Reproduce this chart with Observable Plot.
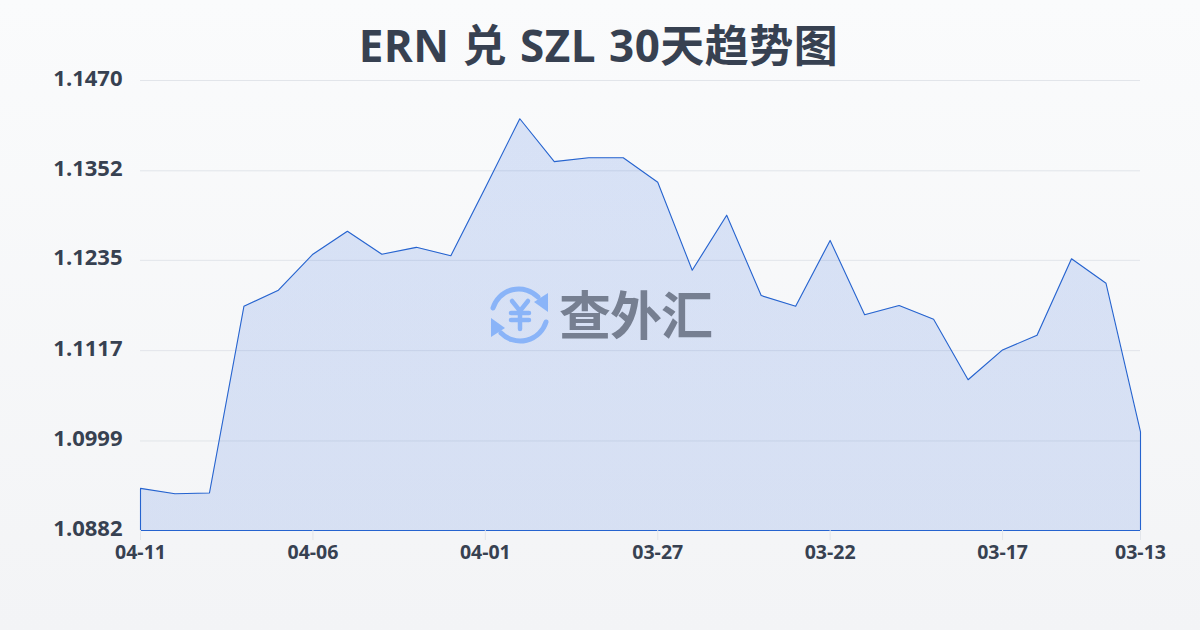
<!DOCTYPE html>
<html lang="zh">
<head>
<meta charset="utf-8">
<script src="https://cdn.jsdelivr.net/npm/d3@7"></script>
<script src="https://cdn.jsdelivr.net/npm/@observablehq/plot@0.6"></script>
<style>
html,body{margin:0;padding:0;width:1200px;height:630px;overflow:hidden;background:linear-gradient(180deg,#fafbfc 0%,#f3f4f6 100%);}
#wrap{position:relative;width:1200px;height:630px;font-family:"Open Sans","Noto Sans CJK SC",sans-serif;}
#title{padding-top:16px;height:44px;line-height:58px;text-align:center;font-size:44px;font-weight:700;letter-spacing:0.5px;word-spacing:1px;color:#374151;white-space:nowrap;margin-left:-3px;}
#chart svg{display:block;background:transparent;}
#mark{position:absolute;left:488px;top:284px;width:230px;height:62px;pointer-events:none;}
#mark span{position:absolute;left:71px;top:-9px;font:700 52px/76px "Noto Sans CJK SC",sans-serif;letter-spacing:-1px;color:#767f91;white-space:nowrap;}
</style>
</head>
<body>
<div id="wrap">
  <div id="title">ERN 兑 SZL 30天趋势图</div>
  <div id="chart"></div>
  <div id="mark">
    <svg width="64" height="62" viewBox="0 0 64 62" style="position:absolute;left:0;top:0">
      <g fill="none" stroke="#8ab4f8" stroke-width="5" stroke-linecap="round">
        <path d="M5 24 A27 27 0 0 1 50 13"/>
        <path d="M58 38 A27 27 0 0 1 13 49"/>
        <path d="M24 17 L32 27 L40 17 M32 27 V45 M23 29 H41 M23 36 H41" stroke-width="4.5"/>
      </g>
      <path d="M46 18 L60 9 L60 28 Z" fill="#8ab4f8"/>
      <path d="M3 34 L17 44 L3 53 Z" fill="#8ab4f8"/>
    </svg>
    <span>查外汇</span>
  </div>
</div>
<script>
const dates = ["04-11","04-10","04-09","04-08","04-07","04-06","04-05","04-04","04-03","04-02","04-01","03-31","03-30","03-29","03-28","03-27","03-26","03-25","03-24","03-23","03-22","03-21","03-20","03-19","03-18","03-17","03-16","03-15","03-14","03-13"];
const rates = [1.0937,1.0930,1.0931,1.1175,1.1196,1.1243,1.1273,1.1243,1.1252,1.1241,1.1330,1.1420,1.1364,1.1369,1.1369,1.1337,1.1222,1.1294,1.1189,1.1175,1.1261,1.1164,1.1176,1.1158,1.1079,1.1118,1.1137,1.1237,1.1205,1.1011];
const yTicks = [1.0882,1.0999,1.1117,1.1235,1.1352,1.1470];
const xTicks = ["04-11","04-06","04-01","03-27","03-22","03-17","03-13"];
const yBase = 1.0882, yTop = 1.1470;
const rows = dates.map((d,i)=>({date:d,rate:rates[i]}));
const outline = [{date:dates[0],rate:yBase},...rows,{date:dates[dates.length-1],rate:yBase},{date:dates[0],rate:yBase}];

const chart = Plot.plot({
  width:1200, height:510,
  marginTop:20, marginBottom:40, marginLeft:140, marginRight:60,
  style:{background:"transparent",fontFamily:'"Open Sans","Noto Sans CJK SC",sans-serif'},
  x:{type:"point",domain:dates,padding:0,round:false,label:null},
  y:{domain:[yBase,yTop],label:null},
  marks:[
    Plot.gridY(yTicks,{stroke:"#e2e5ea",strokeOpacity:1,strokeWidth:1}),
    Plot.areaY(rows,{x:"date",y1:yBase,y2:"rate",fill:"url(#areaFill)",curve:"linear"}),
    Plot.line(outline,{x:"date",y:"rate",stroke:"#2563cf",strokeWidth:1.1,curve:"linear"}),
    Plot.axisY(yTicks,{anchor:"left",tickSize:0,tickPadding:18,tickFormat:d=>d.toFixed(4),fontSize:22,fontWeight:700,fill:"#374151",dy:-2,label:null}),
    Plot.axisX(xTicks,{anchor:"bottom",tickSize:10,tickPadding:5,stroke:"#e2e5ea",fontSize:19.5,fontWeight:700,fill:"#374151",label:null})
  ]
});
const ns = "http://www.w3.org/2000/svg";
const defs = document.createElementNS(ns,"defs");
defs.innerHTML = '<linearGradient id="areaFill" x1="0" y1="0" x2="0" y2="1"><stop offset="0" stop-color="#3068dd" stop-opacity="0.165"/><stop offset="1" stop-color="#3068dd" stop-opacity="0.15"/></linearGradient>';
chart.insertBefore(defs,chart.firstChild);
document.getElementById("chart").appendChild(chart);
</script>
</body>
</html>
